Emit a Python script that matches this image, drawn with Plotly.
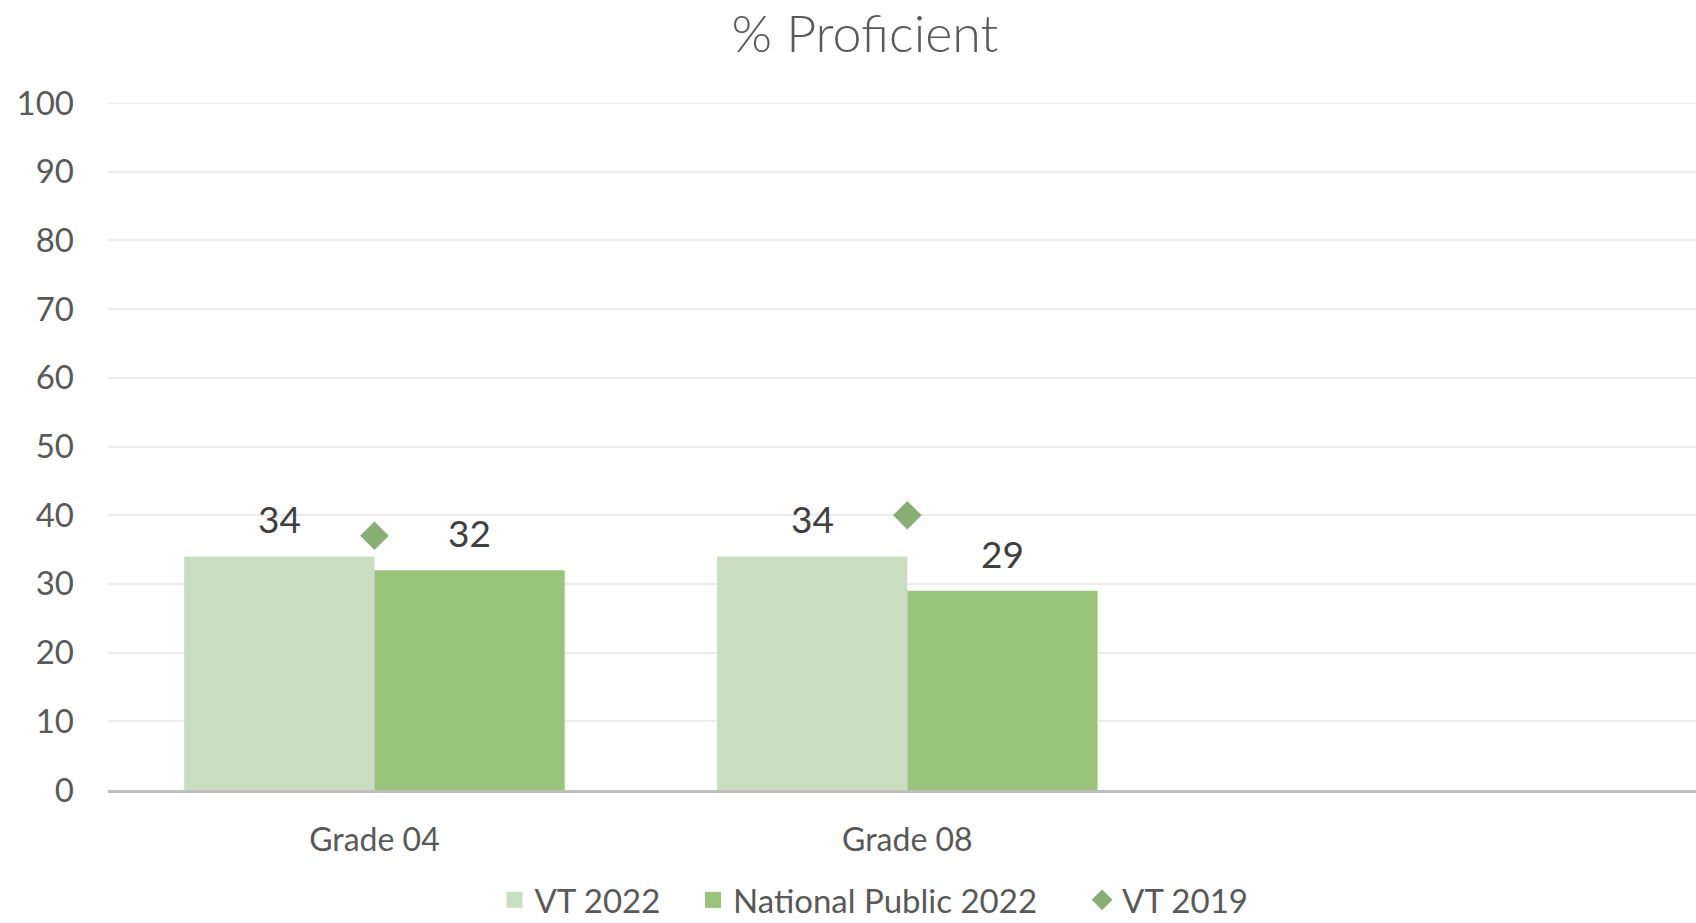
import plotly.graph_objects as go

categories = ["Grade 04", "Grade 08"]
vt_2022 = [34, 34]
national_2022 = [32, 29]
vt_2019 = [37, 40]
y_ticks = [0, 10, 20, 30, 40, 50, 60, 70, 80, 90, 100]

series_names = ["VT 2022", "National Public 2022", "VT 2019"]
series_colors = ["#c9ddc0", "#9ac47b", "#89ad72"]

x_pos = list(range(len(categories)))
bar_w = 0.357
FONT = "Lato, Open Sans, sans-serif"
GRID = "#ececec"

fig = go.Figure()
fig.add_trace(go.Bar(
    x=x_pos, y=vt_2022, name=series_names[0], offset=-bar_w, width=bar_w,
    marker=dict(color=series_colors[0], line=dict(width=0)), showlegend=False,
))
fig.add_trace(go.Bar(
    x=x_pos, y=national_2022, name=series_names[1], offset=0, width=bar_w,
    marker=dict(color=series_colors[1], line=dict(width=0)), showlegend=False,
))
fig.add_trace(go.Scatter(
    x=x_pos, y=vt_2019, name=series_names[2], mode="markers", showlegend=False,
    marker=dict(symbol="diamond", size=22, color=series_colors[2], line=dict(width=0)),
))

# legend entries (one legend per entry so spacing can follow the reference)
legend_keys = ["legend", "legend2", "legend3"]
legend_symbols = ["square", "square", "diamond"]
for name, color, sym, key in zip(series_names, series_colors, legend_symbols, legend_keys):
    fig.add_trace(go.Scatter(
        x=[None], y=[None], name=name, mode="markers", legend=key,
        marker=dict(symbol=sym, size=16, color=color, line=dict(width=0)),
    ))

for i, v in enumerate(vt_2022):
    fig.add_annotation(x=i - bar_w / 2, y=v, text=str(v), showarrow=False,
                       yanchor="bottom", yshift=13,
                       font=dict(family=FONT, size=37, color="#404040"))
for i, v in enumerate(national_2022):
    fig.add_annotation(x=i + bar_w / 2, y=v, text=str(v), showarrow=False,
                       yanchor="bottom", yshift=13,
                       font=dict(family=FONT, size=37, color="#404040"))

# top gridline (Plotly omits the gridline at the range edge)
fig.add_shape(type="line", xref="paper", x0=0, x1=1, yref="y", y0=y_ticks[-1], y1=y_ticks[-1],
              line=dict(color=GRID, width=2), layer="below")

legend_style = dict(orientation="h", yanchor="middle", y=-0.160, xanchor="left",
                    font=dict(family=FONT, size=33, color="#595959"),
                    itemsizing="trace", bgcolor="rgba(0,0,0,0)", borderwidth=0)

fig.update_layout(
    width=1696, height=923,
    paper_bgcolor="white", plot_bgcolor="white",
    margin=dict(l=108, r=0, t=103, b=133, autoexpand=False),
    title=dict(text="% Proficient", x=0.51, xanchor="center", y=0.963, yanchor="middle",
               font=dict(family=FONT, size=52, color="#595959", weight=300)),
    font=dict(family=FONT, color="#595959"),
    showlegend=True,
    legend=dict(x=0.2434, **legend_style),
    legend2=dict(x=0.3684, **legend_style),
    legend3=dict(x=0.6134, **legend_style),
    xaxis=dict(
        range=[-0.5, 2.48], tickvals=x_pos, ticktext=categories, automargin=False,
        showgrid=False, zeroline=False, showline=True, linecolor="#bfbfbf", linewidth=3,
        tickfont=dict(family=FONT, size=32, color="#595959"), ticks="", ticklabelstandoff=20,
    ),
    yaxis=dict(
        range=[0, 100], tickvals=y_ticks, showgrid=True, gridcolor=GRID, gridwidth=2,
        zeroline=False, showline=False, automargin=False,
        tickfont=dict(family=FONT, size=33, color="#595959"),
        ticks="", ticklabelstandoff=33,
    ),
)

fig.write_html("out.html", config={"displayModeBar": False},
               post_script="document.body.style.margin='0';document.body.style.overflow='hidden';")
